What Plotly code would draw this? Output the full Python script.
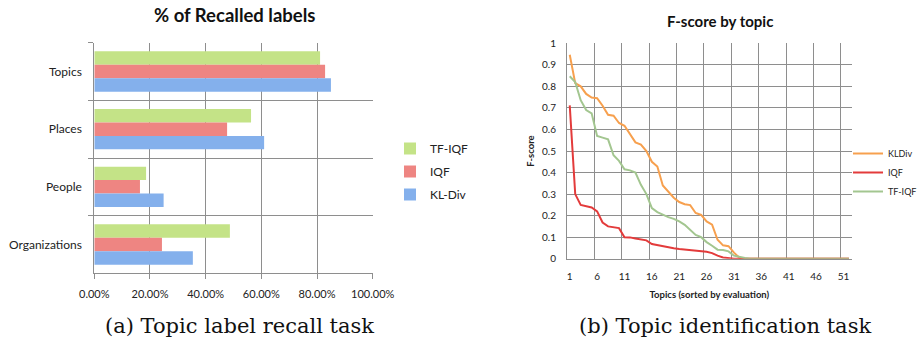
import plotly.graph_objects as go

# ---- Chart (a): % of recalled labels ----
categories = ["Topics", "Places", "People", "Organizations"]
kl_div = [0.850, 0.610, 0.249, 0.354]
iqf_recall = [0.829, 0.477, 0.164, 0.243]
tf_iqf_recall = [0.811, 0.563, 0.186, 0.487]

# ---- Chart (b): F-score by topic ----
topics = list(range(1, 53))
kldiv_f = [0.947, 0.815, 0.800, 0.765, 0.748, 0.745, 0.710, 0.668, 0.664, 0.630,
           0.617, 0.577, 0.540, 0.530, 0.500, 0.450, 0.428, 0.340, 0.310, 0.283,
           0.263, 0.253, 0.249, 0.212, 0.203, 0.173, 0.158, 0.088, 0.062, 0.058,
           0.028, 0.004] + [0.0] * 20
iqf_f = [0.712, 0.300, 0.250, 0.243, 0.238, 0.220, 0.168, 0.150, 0.147, 0.142,
         0.100, 0.099, 0.094, 0.088, 0.085, 0.068, 0.063, 0.056, 0.054, 0.049,
         0.045, 0.043, 0.039, 0.037, 0.035, 0.032, 0.026, 0.014, 0.006, 0.002] + [0.0] * 22
tfiqf_f = [0.847, 0.820, 0.736, 0.690, 0.675, 0.570, 0.562, 0.554, 0.480, 0.454,
           0.415, 0.410, 0.400, 0.343, 0.300, 0.235, 0.216, 0.204, 0.193, 0.185,
           0.173, 0.157, 0.134, 0.110, 0.100, 0.077, 0.060, 0.042, 0.040, 0.034,
           0.014, 0.008, 0.003] + [0.0] * 19

FONT = "Lato, 'Open Sans', sans-serif"
SERIF = "'DejaVu Serif', 'Liberation Serif', serif"
GRID = "#8e8e8e"

fig = go.Figure()

# Bars (y axis reversed -> first trace sits at the top of each group)
fig.add_trace(go.Bar(y=categories, x=tf_iqf_recall, name="TF-IQF", orientation="h",
                     marker=dict(color="#c4e387", line=dict(width=0)),
                     xaxis="x", yaxis="y", legend="legend", legendgroup="g1"))
fig.add_trace(go.Bar(y=categories, x=iqf_recall, name="IQF", orientation="h",
                     marker=dict(color="#ee8582", line=dict(width=0)),
                     xaxis="x", yaxis="y", legend="legend", legendgroup="g2"))
fig.add_trace(go.Bar(y=categories, x=kl_div, name="KL-Div", orientation="h",
                     marker=dict(color="#84b0ec", line=dict(width=0)),
                     xaxis="x", yaxis="y", legend="legend", legendgroup="g3"))

# Lines
fig.add_trace(go.Scatter(x=topics, y=kldiv_f, name="KLDiv", mode="lines",
                         line=dict(color="#f7a04e", width=2),
                         xaxis="x2", yaxis="y2", legend="legend2"))
fig.add_trace(go.Scatter(x=topics, y=iqf_f, name="IQF", mode="lines",
                         line=dict(color="#e33b3b", width=2),
                         xaxis="x2", yaxis="y2", legend="legend2"))
fig.add_trace(go.Scatter(x=topics, y=tfiqf_f, name="TF-IQF", mode="lines",
                         line=dict(color="#a3c690", width=2),
                         xaxis="x2", yaxis="y2", legend="legend2"))

W, H = 919, 341


def px_x(x):
    return x / W


def px_y(y):
    return 1 - y / H


fig.update_layout(
    width=W, height=H,
    margin=dict(l=0, r=0, t=0, b=0, autoexpand=False),
    paper_bgcolor="white", plot_bgcolor="white",
    font=dict(family=FONT, size=11, color="#222"),
    barmode="group", bargap=0.30, bargroupgap=0,
    xaxis=dict(domain=[px_x(94.3), px_x(372.7)], anchor="y", range=[0, 1],
               tickmode="linear", tick0=0, dtick=0.2, tickformat=".2%",
               showgrid=True, gridcolor=GRID, gridwidth=1,
               showline=True, linecolor=GRID, mirror=False,
               ticks="outside", ticklen=5, tickcolor=GRID, ticklabelstandoff=5,
               zeroline=False, tickfont=dict(size=11, color="#222")),
    yaxis=dict(domain=[px_y(273.3), px_y(42.7)], anchor="x",
               autorange="reversed", type="category",
               tickson="boundaries", showgrid=True, gridcolor=GRID,
               showline=True, linecolor=GRID, ticks="outside", ticklen=5,
               tickcolor=GRID, ticklabelstandoff=9,
               tickfont=dict(size=12, color="#222")),
    xaxis2=dict(domain=[px_x(567), px_x(851.7)], anchor="y2", range=[0.5, 52.5],
                tickmode="array", tickvals=list(range(1, 53, 5)),
                showgrid=False, zeroline=False,
                minor=dict(tickmode="linear", tick0=0.5, dtick=5, showgrid=True,
                           gridcolor=GRID, gridwidth=1),
                showline=True, linecolor=GRID,
                tickfont=dict(size=10, color="#222"), ticklabelstandoff=8,
                title=dict(text="<b>Topics (sorted by evaluation)</b>",
                           font=dict(size=9.5, color="#222"), standoff=10)),
    yaxis2=dict(domain=[px_y(258.7), px_y(43.3)], anchor="x2", range=[0, 1],
                tickmode="linear", tick0=0, dtick=0.1, tickformat="~g",
                showgrid=True, gridcolor=GRID, gridwidth=1, zeroline=False,
                showline=True, linecolor=GRID,
                tickfont=dict(size=10, color="#222"), ticklabelstandoff=8,
                title=dict(text="<b>F-score</b>", font=dict(size=9.5, color="#222"),
                           standoff=5)),
    legend=dict(x=px_x(390), y=px_y(134), xanchor="left", yanchor="top",
                bgcolor="rgba(0,0,0,0)", font=dict(size=12, color="#222"),
                itemwidth=30, tracegroupgap=4, itemsizing="constant"),
    legend2=dict(x=px_x(848), y=px_y(139), xanchor="left", yanchor="top",
                 bgcolor="rgba(0,0,0,0)", font=dict(size=9, color="#222"),
                 itemwidth=30),
    showlegend=True,
    annotations=[
        dict(text="<b>% of Recalled labels</b>", x=px_x(235), y=px_y(15),
             xref="paper", yref="paper", showarrow=False,
             xanchor="center", yanchor="middle",
             font=dict(size=18.5, color="#111", family=FONT)),
        dict(text="<b>F-score by topic</b>", x=px_x(720), y=px_y(21),
             xref="paper", yref="paper", showarrow=False,
             xanchor="center", yanchor="middle",
             font=dict(size=15, color="#111", family=FONT)),
        dict(text="(a) Topic label recall task", x=px_x(239.5), y=px_y(326),
             xref="paper", yref="paper", showarrow=False,
             xanchor="center", yanchor="middle",
             font=dict(size=21, color="#111", family=SERIF)),
        dict(text="(b) Topic identification task", x=px_x(725), y=px_y(326),
             xref="paper", yref="paper", showarrow=False,
             xanchor="center", yanchor="middle",
             font=dict(size=21, color="#111", family=SERIF)),
    ],
)

fig.write_html("out.html", config={"displayModeBar": False},
               post_script="document.body.style.margin='0';")
